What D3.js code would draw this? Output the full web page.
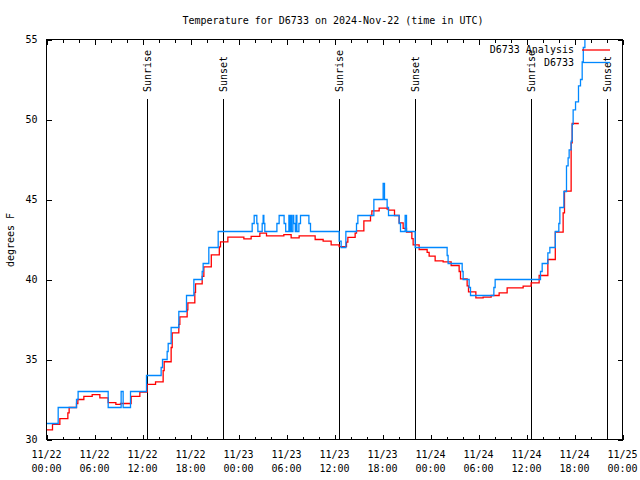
<!DOCTYPE html>
<html>
<head>
<meta charset="utf-8">
<script src="https://cdn.jsdelivr.net/npm/d3@7"></script>
<style>
  html, body { margin: 0; padding: 0; background: #fff; }
  svg { display: block; }
  text { font-family: "DejaVu Sans Mono", "Liberation Mono", monospace; font-size: 10px; fill: #000; }
</style>
</head>
<body>
<svg id="chart" width="640" height="480"></svg>
<script>
// ---- data (hours since 2024-11-22 00:00 UTC, degrees F), step series ----
const analysisTimes = [0, 0.75, 1.67, 2.67, 2.83, 3.75, 3.92, 4.67, 5.71, 6.67, 7.71, 8.67, 9.25, 10.58, 11.67,
  12.58, 13.63, 14.58, 14.71, 15.58, 15.71, 16.54, 16.67, 17.58, 17.67, 18.54, 18.63, 19.46, 19.67, 20.6, 21.6,
  21.75, 22.67, 24.67, 25.58, 26.67, 27.5, 29.67, 30.58, 31.58, 33.58, 34.58, 35.58, 36.58, 37.5, 37.67, 38.58,
  38.75, 39.67, 40.5, 40.67, 41.58, 42.58, 42.75, 43.5, 44.08, 44.58, 45.0, 45.67, 45.83, 46.58, 47.58, 47.83,
  48.58, 49.58, 50.58, 51.58, 51.75, 52.58, 52.75, 53.67, 54.58, 55.58, 56.58, 57.58, 59.58, 60.58, 61.58,
  62.67, 63.6, 64.58, 64.75, 65.58, 65.71, 66.54];
const analysisValues = [30.6, 30.94, 31.3, 31.67, 32.0, 32.25, 32.5, 32.7, 32.8, 32.6, 32.3, 32.2, 32.25, 32.7, 32.96,
  33.44, 33.6, 34.3, 34.86, 35.75, 36.67, 37.2, 37.67, 38.1, 38.54, 39.2, 39.73, 40.2, 40.79, 41.54, 42.04,
  42.35, 42.65, 42.54, 42.69, 42.9, 42.73, 42.8, 42.6, 42.73, 42.5, 42.4, 42.17, 42.05, 42.33, 42.63, 42.9,
  43.04, 43.67, 44.0, 44.29, 44.46, 44.4, 44.33, 44.0, 43.54, 43.2, 42.96, 42.55, 42.17, 41.875, 41.7, 41.46,
  41.17, 41.1, 40.875, 40.5, 40.04, 39.6, 39.23, 38.85, 38.9, 39.0, 39.17, 39.48, 39.58, 39.79, 40.25,
  41.25, 42.96, 44.17, 45.52, 48.54, 49.75, 49.75];

const stationTimes = [0, 1.46, 3.75, 3.95, 7.71, 9.33, 9.58, 10.5, 12.5, 14.33, 14.5, 15.08, 15.21, 15.58, 16.54,
  17.5, 18.42, 19.46, 19.58, 20.29, 21.46, 25.71, 25.96, 26.29, 26.42, 26.96, 27.08, 27.17, 27.29, 28.8, 29.08,
  29.7, 29.9, 30.3, 30.45, 30.55, 30.62, 30.8, 30.9, 31.1, 31.2, 31.3, 31.55, 31.75, 32.8, 33.0, 36.58, 36.83,
  37.42, 38.75, 38.92, 40.92, 42.08, 42.25, 42.58, 42.75, 44.08, 44.25, 44.83, 45.0, 46.08, 50.08, 50.2, 51.96,
  52.08, 52.83, 53.0, 55.92, 56.08, 61.75, 61.96, 62.67, 62.92, 63.6, 64.04, 64.17, 64.67, 65.0, 65.2, 65.33,
  65.58, 65.71, 65.83, 66.13, 66.5, 66.75, 66.96, 67.1, 67.3, 68.5];
const stationValues = [31, 32, 32.5, 33, 32, 33, 32, 33, 34, 34.5, 35, 35.5, 36, 37, 38,
  39, 40, 40.5, 41, 42, 43, 43.5, 44, 43.5, 43, 43.5, 44, 43.5, 43, 43.5, 44,
  43.5, 43, 44, 43, 44, 43, 44, 43.5, 43, 44, 43, 43.5, 44, 43.5, 43, 42.4, 42,
  43, 43.5, 44, 45, 46, 45, 44.5, 44, 43.5, 43, 44, 43, 42, 41.5, 41, 40.5,
  40, 39.5, 39, 39.5, 40, 40.5, 41, 41.67, 42, 43, 43.5, 44.5, 45.5, 47.1, 47.6, 48.1,
  48.65, 49.7, 50.6, 51.1, 52.1, 52.5, 53.6, 54.5, 56.5, 56.5];

const sunTimes = [12.54, 22.12, 36.55, 46.12, 60.58, 70.08];
const sunLabels = ["Sunrise", "Sunset", "Sunrise", "Sunset", "Sunrise", "Sunset"];

const xTickValues = [0, 6, 12, 18, 24, 30, 36, 42, 48, 54, 60, 66, 72];
const xTickDates = ["11/22", "11/22", "11/22", "11/22", "11/23", "11/23", "11/23", "11/23", "11/24", "11/24", "11/24", "11/24", "11/25"];
const xTickTimes = ["00:00", "06:00", "12:00", "18:00", "00:00", "06:00", "12:00", "18:00", "00:00", "06:00", "12:00", "18:00", "00:00"];
const yTickValues = [30, 35, 40, 45, 50, 55];

const seriesNames = ["D6733 Analysis", "D6733"];
const seriesColors = ["#ff0000", "#0088ff"];

const titleText = "Temperature for D6733 on 2024-Nov-22 (time in UTC)";
const yLabelText = "degrees F";

// ---- layout ----
const svg = d3.select("#chart");
const L = 46.5, R = 622.5, T = 39.5, B = 439.5;
const x = d3.scaleLinear().domain([0, 72]).range([L, R]);
const y = d3.scaleLinear().domain([30, 55]).range([B, T]);

svg.append("defs").append("clipPath").attr("id", "clip")
  .append("rect").attr("x", L).attr("y", T).attr("width", R - L).attr("height", B - T);

// title
svg.append("text").attr("x", 333).attr("y", 24).attr("text-anchor", "middle").text(titleText);

// y label
svg.append("text").attr("transform", "translate(14,240) rotate(-90)")
  .attr("text-anchor", "middle").text(yLabelText);

// axes (ticks inward, mirrored)
function styleAxis(g) {
  g.select(".domain").remove();
  g.selectAll("line").attr("stroke", "#000").attr("stroke-width", 1).attr("shape-rendering", "crispEdges");
}
const minorX = d3.range(0, 73, 2).filter(v => v % 6 !== 0);

svg.append("g").attr("transform", `translate(0,${B})`)
  .call(d3.axisBottom(x).tickValues(minorX).tickSize(-3).tickFormat(""))
  .call(styleAxis);
svg.append("g").attr("transform", `translate(0,${T})`)
  .call(d3.axisTop(x).tickValues(minorX).tickSize(-3).tickFormat(""))
  .call(styleAxis);
svg.append("g").attr("transform", `translate(0,${B})`)
  .call(d3.axisBottom(x).tickValues(xTickValues).tickSize(-5).tickFormat(""))
  .call(styleAxis);
svg.append("g").attr("transform", `translate(0,${T})`)
  .call(d3.axisTop(x).tickValues(xTickValues).tickSize(-5).tickFormat(""))
  .call(styleAxis);

const xl = svg.append("g").selectAll("text").data(xTickValues).join("text")
  .attr("x", d => x(d)).attr("text-anchor", "middle");
xl.append("tspan").attr("x", d => x(d)).attr("y", 458).text((d, i) => xTickDates[i]);
xl.append("tspan").attr("x", d => x(d)).attr("y", 472).text((d, i) => xTickTimes[i]);

svg.append("g").attr("transform", `translate(${L},0)`)
  .call(d3.axisLeft(y).tickValues(yTickValues).tickSize(-5).tickPadding(9).tickFormat(d3.format("d")))
  .call(styleAxis)
  .call(g => g.selectAll("text").attr("font-family", null).attr("font-size", null).attr("fill", null));
svg.append("g").attr("transform", `translate(${R},0)`)
  .call(d3.axisRight(y).tickValues(yTickValues).tickSize(-5).tickFormat(""))
  .call(styleAxis);

// sunrise / sunset
const sun = svg.append("g");
sun.selectAll("line").data(sunTimes).join("line")
  .attr("x1", d => Math.round(x(d)) + 0.5).attr("x2", d => Math.round(x(d)) + 0.5)
  .attr("y1", 99).attr("y2", B).attr("stroke", "#000").attr("stroke-width", 1);
sun.selectAll("text").data(sunTimes).join("text")
  .attr("transform", d => `translate(${Math.round(x(d)) + 1},92) rotate(-90)`)
  .attr("text-anchor", "start").attr("dominant-baseline", "middle")
  .text((d, i) => sunLabels[i]);

// series
const line = d3.line().curve(d3.curveStepAfter).x(d => x(d[0])).y(d => y(d[1]));
const plot = svg.append("g").attr("clip-path", "url(#clip)");
const series = [
  d3.zip(analysisTimes, analysisValues),
  d3.zip(stationTimes, stationValues)
];
series.forEach((s, i) => {
  plot.append("path").datum(s).attr("d", line)
    .attr("fill", "none").attr("stroke", seriesColors[i]).attr("stroke-width", 1.3);
});

// legend
const leg = svg.append("g");
seriesNames.forEach((n, i) => {
  const ly = 50 + i * 12.5;
  leg.append("text").attr("x", 574).attr("y", ly).attr("text-anchor", "end")
    .attr("dominant-baseline", "middle").text(n);
  leg.append("line").attr("x1", 582).attr("x2", 610).attr("y1", ly).attr("y2", ly)
    .attr("stroke", seriesColors[i]).attr("stroke-width", 1.3);
});

// border
svg.append("rect").attr("x", L).attr("y", T).attr("width", R - L).attr("height", B - T)
  .attr("fill", "none").attr("stroke", "#000").attr("stroke-width", 1);
</script>
</body>
</html>
